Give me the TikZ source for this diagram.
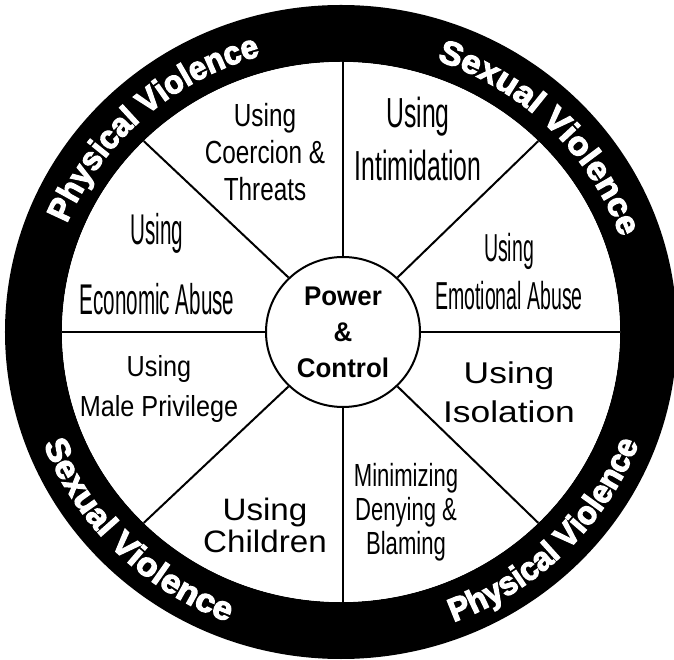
\documentclass[tikz,border=0pt]{standalone}
\usepackage{fontspec}
\usetikzlibrary{shapes.geometric,decorations.text}
\setmainfont{Liberation Sans}
\newfontfamily\hubfont[FakeStretch=0.96]{Liberation Sans}
\newfontfamily\ringphys[FakeStretch=0.95, UprightFont={* Bold}, FakeBold=3.5]{Liberation Sans}
\newfontfamily\ringsex[FakeStretch=1.05, UprightFont={* Bold}, FakeBold=3.5]{Liberation Sans}
\newfontfamily\coercionfont[FakeStretch=0.76]{Liberation Sans}
\newfontfamily\intimfont[FakeStretch=0.59]{Liberation Sans}
\newfontfamily\economicfont[FakeStretch=0.48]{Liberation Sans}
\newfontfamily\emotionfont[FakeStretch=0.50]{Liberation Sans}
\newfontfamily\privilegefont[FakeStretch=0.87]{Liberation Sans}
\newfontfamily\minimfont[FakeStretch=0.69]{Liberation Sans}
\newfontfamily\isolationfont[FakeStretch=1.18]{Liberation Sans}
\newfontfamily\childfont[FakeStretch=1.07]{Liberation Sans}
\def\ringP{\ringphys\fontsize{33}{33}\selectfont\color{white}}
\def\ringS{\ringsex\fontsize{33}{33}\selectfont\color{white}}
\tikzset{
	spoke/.style={line width=2pt},
	sector/.style={align=center, anchor=north, inner sep=0pt},
	ringtext/.style={decorate, decoration={text along path, text align=center, text={#1}}}
}

\begin{document}
\begin{tikzpicture}[x=1pt, y=1pt]
			%%%%% START %%%%%
			
			\useasboundingbox (-341, -328) rectangle (333, 332);
			
			\fill[black, even odd rule] (0, 0) ellipse [x radius=336, y radius=327] (0, 0) ellipse [x radius=279, y radius=270];
			\fill[white] (0, 0) ellipse [x radius=279, y radius=270];
			
			\coordinate (rimE) at (0:279 and 270);
			\coordinate (rimNE) at (45:279 and 270);
			\coordinate (rimN) at (2, 270);
			\coordinate (rimNW) at (135:279 and 270);
			\coordinate (rimW) at (180:279 and 270);
			\coordinate (rimSW) at (225:279 and 270);
			\coordinate (rimS) at (2, -270);
			\coordinate (rimSE) at (315:279 and 270);
			
			\node[draw, ellipse, line width=2pt, fill=white, minimum width=154pt, minimum height=150pt, inner sep=0pt, align=center, font=\hubfont\bfseries\fontsize{27}{36}\selectfont] (hub) at (2, 0) {Power\\\&\\Control};
			
			\draw[spoke] (hub.0) -- (rimE);
			\draw[spoke] (hub.45) -- (rimNE);
			\draw[spoke] (hub.90) -- (rimN);
			\draw[spoke] (hub.135) -- (rimNW);
			\draw[spoke] (hub.180) -- (rimW);
			\draw[spoke] (hub.225) -- (rimSW);
			\draw[spoke] (hub.270) -- (rimS);
			\draw[spoke] (hub.315) -- (rimSE);
			
			\node[sector, font=\coercionfont\fontsize{32}{37}\selectfont] (coercion) at (-76, 229) {Using\\Coercion \&\\Threats};
			\node[sector, font=\intimfont\fontsize{42}{53}\selectfont] (intimidation) at (77, 235) {Using\\Intimidation};
			\node[sector, font=\economicfont\fontsize{43}{70}\selectfont] (economic) at (-184, 119) {Using\\Economic Abuse};
			\node[sector, font=\emotionfont\fontsize{39}{48}\selectfont] (emotional) at (168, 99) {Using\\Emotional Abuse};
			\node[sector, font=\privilegefont\fontsize{29}{40}\selectfont] (privilege) at (-182, -23) {Using\\Male Privilege};
			\node[sector, font=\isolationfont\fontsize{30}{39}\selectfont] (isolation) at (168, -30) {Using\\Isolation};
			\node[sector, font=\minimfont\fontsize{32}{34}\selectfont] (minimizing) at (65, -131) {Minimizing\\Denying \&\\Blaming};
			\node[sector, font=\childfont\fontsize{31}{32}\selectfont] (children) at (-76, -166) {Using\\Children};
			
			\path[ringtext={|\ringP|Physical Violence}] (172:296 and 287) arc [start angle=172, end angle=92, x radius=296, y radius=287];
			\path[ringtext={|\ringS|Sexual Violence}] (85:296 and 287) arc [start angle=85, end angle=5, x radius=296, y radius=287];
			\path[ringtext={|\ringS|Sexual Violence}] (185:319 and 310) arc [start angle=185, end angle=265, x radius=319, y radius=310];
			\path[ringtext={|\ringP|Physical Violence}] (275:319 and 310) arc [start angle=275, end angle=355, x radius=319, y radius=310];
			
			%%%%% END %%%%%
		\end{tikzpicture}
\end{document}
